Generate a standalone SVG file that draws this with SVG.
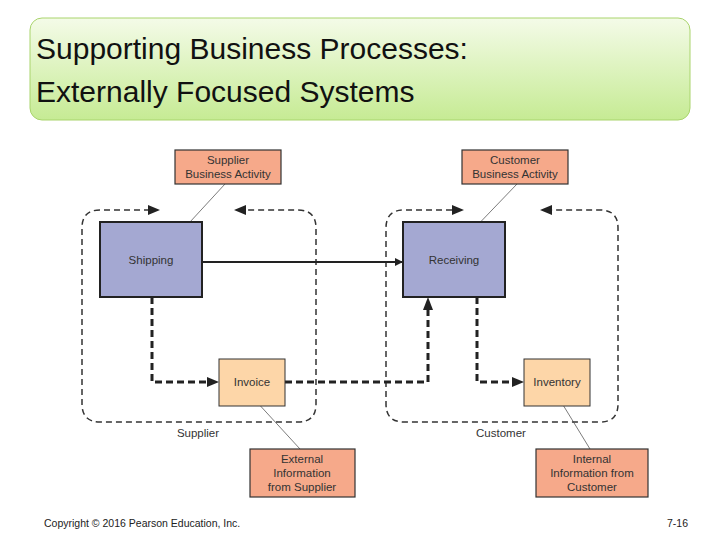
<svg xmlns="http://www.w3.org/2000/svg" width="720" height="540" viewBox="0 0 720 540">
<defs>
<linearGradient id="g" x1="0" y1="0" x2="0" y2="1"><stop offset="0" stop-color="#f4fbe8"/><stop offset="1" stop-color="#c6eb94"/></linearGradient>
<marker id="a" viewBox="0 0 10 10" refX="10" refY="5" markerWidth="4" markerHeight="4" orient="auto" markerUnits="strokeWidth"><path d="M0,0L10,5L0,10z" fill="#222"/></marker>
<marker id="b" viewBox="0 0 10 10" refX="10" refY="5" markerWidth="7" markerHeight="7" orient="auto" markerUnits="strokeWidth"><path d="M0,0L10,5L0,10z" fill="#222"/></marker>
<style>
.t{font-family:"Liberation Sans",Arial,sans-serif;font-size:11.5px;fill:#333;text-anchor:middle}
.p{fill:#a4a8d2;stroke:#222;stroke-width:2}
.o{fill:#f6a98a;stroke:#333;stroke-width:1.2}
.y{fill:#fdd6a8;stroke:#333;stroke-width:1}
.r{fill:none;stroke:#333;stroke-width:1.5;stroke-dasharray:6,4}
.d{fill:none;stroke:#222;stroke-width:3;stroke-dasharray:7,4}
.l{stroke:#444;stroke-width:0.7}
</style>
</defs>
<rect x="30" y="18" width="660" height="102" rx="12" fill="url(#g)" stroke="#a9d46c"/>
<text font-family="'Liberation Sans',Arial,sans-serif" font-size="30" fill="#111"><tspan x="36" y="59">Supporting Business Processes:</tspan><tspan x="36" y="102">Externally Focused Systems</tspan></text>
<g id="regions">
<path class="r" d="M150,210H100Q82,210 82,228V404Q82,422 100,422H298Q316,422 316,404V228Q316,210 298,210H240" />
<path class="r" d="M452,210H404Q386,210 386,228V404Q386,422 404,422H600Q618,422 618,404V228Q618,210 600,210H546" />
<path d="M148,205L160,210L148,215z M246,205L234,210L246,215z M452,205L464,210L452,215z M552,205L540,210L552,215z" fill="#222"/>
<text class="t" x="198" y="437">Supplier</text>
<text class="t" x="501" y="437">Customer</text>
</g>
<g id="connectors">
<line x1="202" y1="262" x2="403" y2="262" stroke="#222" stroke-width="2" marker-end="url(#a)"/>
<path class="d" d="M152,297V382H214"/><path d="M207,377L219,382L207,387z" fill="#222"/>
<path class="d" d="M285,382H428V303"/><path d="M423,310L428,297L433,310z" fill="#222"/>
<path class="d" d="M477,297V382H519"/><path d="M512,377L524,382L512,387z" fill="#222"/>
<line class="l" x1="225" y1="184" x2="178" y2="235"/>
<line class="l" x1="517" y1="184" x2="468" y2="235"/>
<line class="l" x1="255" y1="400" x2="300" y2="449"/>
<line class="l" x1="560" y1="400" x2="590" y2="449"/>
</g>
<g id="shipping"><rect class="p" x="100" y="222" width="102" height="75"/><text class="t" x="151" y="264">Shipping</text></g>
<g id="receiving"><rect class="p" x="403" y="222" width="102" height="75"/><text class="t" x="454" y="264">Receiving</text></g>
<g id="supplier-activity"><rect class="o" x="175" y="150" width="106" height="34"/><text class="t" x="228" y="164">Supplier</text><text class="t" x="228" y="178">Business Activity</text></g>
<g id="customer-activity"><rect class="o" x="462" y="150" width="106" height="34"/><text class="t" x="515" y="164">Customer</text><text class="t" x="515" y="178">Business Activity</text></g>
<g id="invoice"><rect class="y" x="219" y="359" width="66" height="47"/><text class="t" x="252" y="386">Invoice</text></g>
<g id="inventory"><rect class="y" x="524" y="359" width="66" height="47"/><text class="t" x="557" y="386">Inventory</text></g>
<g id="external"><rect class="o" x="250" y="449" width="105" height="48"/><text class="t" x="302" y="463">External</text><text class="t" x="302" y="477">Information</text><text class="t" x="302" y="491">from Supplier</text></g>
<g id="internal"><rect class="o" x="536" y="449" width="112" height="48"/><text class="t" x="592" y="463">Internal</text><text class="t" x="592" y="477">Information from</text><text class="t" x="592" y="491">Customer</text></g>
<text x="44" y="527" font-family="'Liberation Sans',Arial,sans-serif" font-size="10.5" fill="#222">Copyright © 2016 Pearson Education, Inc.</text>
<text x="688" y="527" font-family="'Liberation Sans',Arial,sans-serif" font-size="10.5" fill="#222" text-anchor="end">7-16</text>
</svg>
